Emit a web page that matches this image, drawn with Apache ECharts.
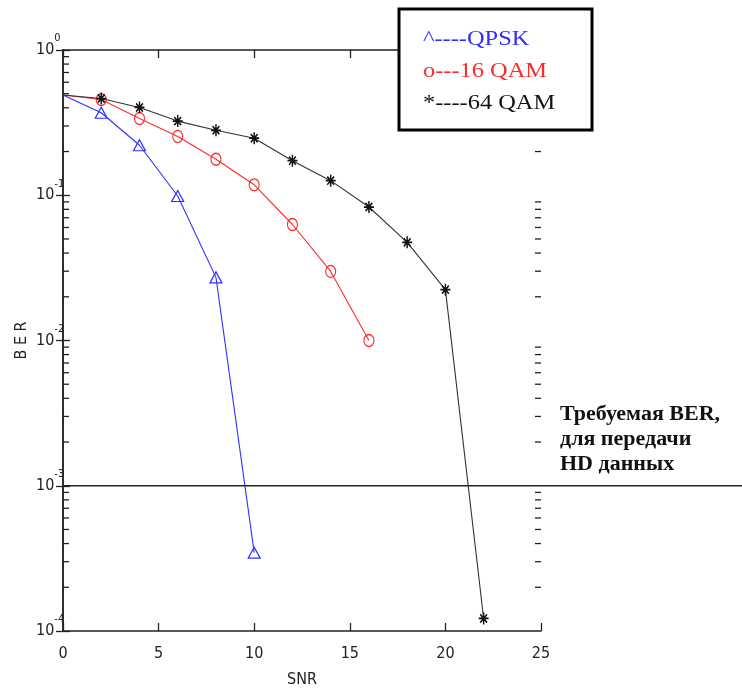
<!DOCTYPE html>
<html>
<head>
<meta charset="utf-8">
<script src="https://cdn.jsdelivr.net/npm/echarts@6/dist/echarts.min.js"></script>
<style>
  html, body { margin: 0; padding: 0; background: #fff; overflow: hidden; }
  #chart { width: 742px; height: 693px; }
</style>
</head>
<body>
<div id="chart"></div>
<script>
// BER vs SNR for three modulation schemes
const qpskSnr = [0, 2, 4, 6, 8, 10];
const qpskBer = [0.49, 0.37, 0.221, 0.0988, 0.0272, 3.46e-4];

const qam16Snr = [0, 2, 4, 6, 8, 10, 12, 14, 16];
const qam16Ber = [0.49, 0.456, 0.338, 0.254, 0.177, 0.118, 0.0629, 0.0299, 0.0100];

const qam64Snr = [0, 2, 4, 6, 8, 10, 12, 14, 16, 18, 20, 22];
const qam64Ber = [0.49, 0.463, 0.402, 0.324, 0.28, 0.247, 0.173, 0.126, 0.083, 0.0474, 0.0224, 1.22e-4];

const requiredBer = 1e-3;
const legendLines = ['^----QPSK', 'o---16 QAM', '*----64 QAM'];
const noteLines = ['Требуемая BER,', 'для передачи', 'HD данных'];

const xMin = 0, xMax = 25, xStep = 5;
const yMin = 1e-4, yMax = 1;

// minor log ticks (2..9 within each decade)
const minorTicks = [];
for (let e = -4; e < 0; e++) {
  for (let m = 2; m <= 9; m++) minorTicks.push(m * Math.pow(10, e));
}

const narrow = "'Liberation Sans Narrow', 'Arial Narrow', 'DejaVu Sans Condensed', sans-serif";
const serif = "'Liberation Serif', 'Times New Roman', serif";
const axisColor = '#222';
const blue = '#2f2fff';
const red = '#ff2b2b';
const black = '#111';

function pairs(xs, ys) {
  return xs.map((x, i) => i === 0 ? { value: [x, ys[i]], symbol: 'none' } : [x, ys[i]]);
}

const asterisk = 'path://M5 0L5 10M0 5L10 5M1.6 1.6L8.4 8.4M8.4 1.6L1.6 8.4';

const chart = echarts.init(document.getElementById('chart'), null, { renderer: 'canvas' });

const axisLineStyle = { lineStyle: { color: axisColor, width: 1.5 } };
const majorTick = { inside: true, length: 8, lineStyle: { color: axisColor, width: 1.3 } };

chart.setOption({
  backgroundColor: '#fff',
  animation: false,
  grid: { left: 63, top: 50, width: 478, height: 586, containLabel: false },
  xAxis: [
    {
      type: 'value', min: xMin, max: xMax, interval: xStep,
      position: 'bottom',
      axisLine: axisLineStyle,
      axisTick: majorTick,
      axisLabel: { color: axisColor, fontFamily: narrow, fontSize: 16, margin: 15 },
      splitLine: { show: false },
      name: 'SNR', nameLocation: 'middle', nameGap: 41, nameMoveOverlap: false,
      nameTextStyle: { color: axisColor, fontFamily: narrow, fontSize: 16 }
    },
    {
      type: 'value', min: xMin, max: xMax, interval: xStep,
      position: 'top',
      axisLine: axisLineStyle,
      axisTick: majorTick,
      axisLabel: { show: false },
      splitLine: { show: false }
    }
  ],
  yAxis: [
    {
      type: 'log', min: yMin, max: yMax, logBase: 10,
      position: 'left',
      axisLine: axisLineStyle,
      axisTick: { inside: true, length: 7, lineStyle: { color: axisColor, width: 1.3 } },
      axisLabel: {
        margin: 27, align: 'left',
        formatter: v => '{b|10}{e|' + Math.round(Math.log10(v)) + '}',
        rich: {
          b: { fontFamily: narrow, fontSize: 16, color: axisColor, lineHeight: 34 },
          e: { fontFamily: narrow, fontSize: 11, color: axisColor, lineHeight: 10, verticalAlign: 'top' }
        }
      },
      splitLine: { show: false },
      name: 'B E R', nameLocation: 'middle', nameRotate: 90, nameGap: 33, nameMoveOverlap: false,
      nameTextStyle: { color: axisColor, fontFamily: narrow, fontSize: 16 }
    },
    {
      type: 'log', min: yMin, max: yMax, logBase: 10,
      position: 'right',
      axisLine: axisLineStyle,
      axisTick: { inside: true, length: 7, lineStyle: { color: axisColor, width: 1.3 } },
      axisLabel: { show: false },
      splitLine: { show: false }
    }
  ],
  series: [
    {
      // required BER level, runs past the plot to the page edge
      type: 'custom', xAxisIndex: 0, yAxisIndex: 0, silent: true, clip: false, z: 4,
      data: [[xMin, requiredBer]],
      renderItem: (params, api) => {
        const p = api.coord([api.value(0), api.value(1)]);
        return {
          type: 'line',
          shape: { x1: p[0], y1: p[1], x2: api.getWidth(), y2: p[1] },
          style: { stroke: '#222', lineWidth: 1.4 }
        };
      }
    },
    {
      name: 'QPSK', type: 'line', xAxisIndex: 0, yAxisIndex: 0, z: 10,
      data: pairs(qpskSnr, qpskBer),
      lineStyle: { color: blue, width: 1.1 },
      symbol: 'triangle', symbolSize: [12, 11],
      itemStyle: { color: 'rgba(0,0,0,0)', borderColor: blue, borderWidth: 1.2 }
    },
    {
      name: '16 QAM', type: 'line', xAxisIndex: 0, yAxisIndex: 0, z: 10,
      data: pairs(qam16Snr, qam16Ber),
      lineStyle: { color: red, width: 1.1 },
      symbol: 'circle', symbolSize: [10, 12],
      itemStyle: { color: 'rgba(0,0,0,0)', borderColor: red, borderWidth: 1.2 }
    },
    {
      name: '64 QAM', type: 'line', xAxisIndex: 0, yAxisIndex: 0, z: 10,
      data: pairs(qam64Snr, qam64Ber),
      lineStyle: { color: '#333', width: 1.1 },
      symbol: asterisk, symbolSize: [10, 12],
      itemStyle: { color: 'rgba(0,0,0,0)', borderColor: black, borderWidth: 1.6 }
    }
  ]
});

// minor ticks on both vertical borders, placed through the axis scales
const tickEls = [];
const tickStyle = { stroke: axisColor, lineWidth: 1.3 };
minorTicks.forEach(v => {
  const l = chart.convertToPixel({ xAxisIndex: 0, yAxisIndex: 0 }, [xMin, v]);
  const r = chart.convertToPixel({ xAxisIndex: 0, yAxisIndex: 0 }, [xMax, v]);
  tickEls.push({ type: 'line', z: 50, silent: true, shape: { x1: l[0], y1: l[1], x2: l[0] + 6, y2: l[1] }, style: tickStyle });
  tickEls.push({ type: 'line', z: 50, silent: true, shape: { x1: r[0], y1: r[1], x2: r[0] - 6, y2: r[1] }, style: tickStyle });
});

const legendFont = '20px ' + serif;
chart.setOption({
  graphic: tickEls.concat([
    {
      type: 'group', x: 399, y: 9, z: 100,
      children: [
        { type: 'rect', z: 100, shape: { x: 0, y: 0, width: 193, height: 121 },
          style: { fill: '#fff', stroke: '#000', lineWidth: 3 } },
        { type: 'text', z: 101, x: 24, y: 31, scaleX: 1.22, style: { text: legendLines[0], fill: blue, font: legendFont, verticalAlign: 'middle' } },
        { type: 'text', z: 101, x: 24, y: 63, scaleX: 1.22, style: { text: legendLines[1], fill: red, font: legendFont, verticalAlign: 'middle' } },
        { type: 'text', z: 101, x: 24, y: 95, scaleX: 1.22, style: { text: legendLines[2], fill: '#111', font: legendFont, verticalAlign: 'middle' } }
      ]
    },
    {
      type: 'text', x: 560, y: 402, z: 100, scaleX: 1.1,
      style: {
        text: noteLines.join('\n'), fill: '#111',
        font: 'bold 20px ' + serif, lineHeight: 25
      }
    }
  ])
});
</script>
</body>
</html>
